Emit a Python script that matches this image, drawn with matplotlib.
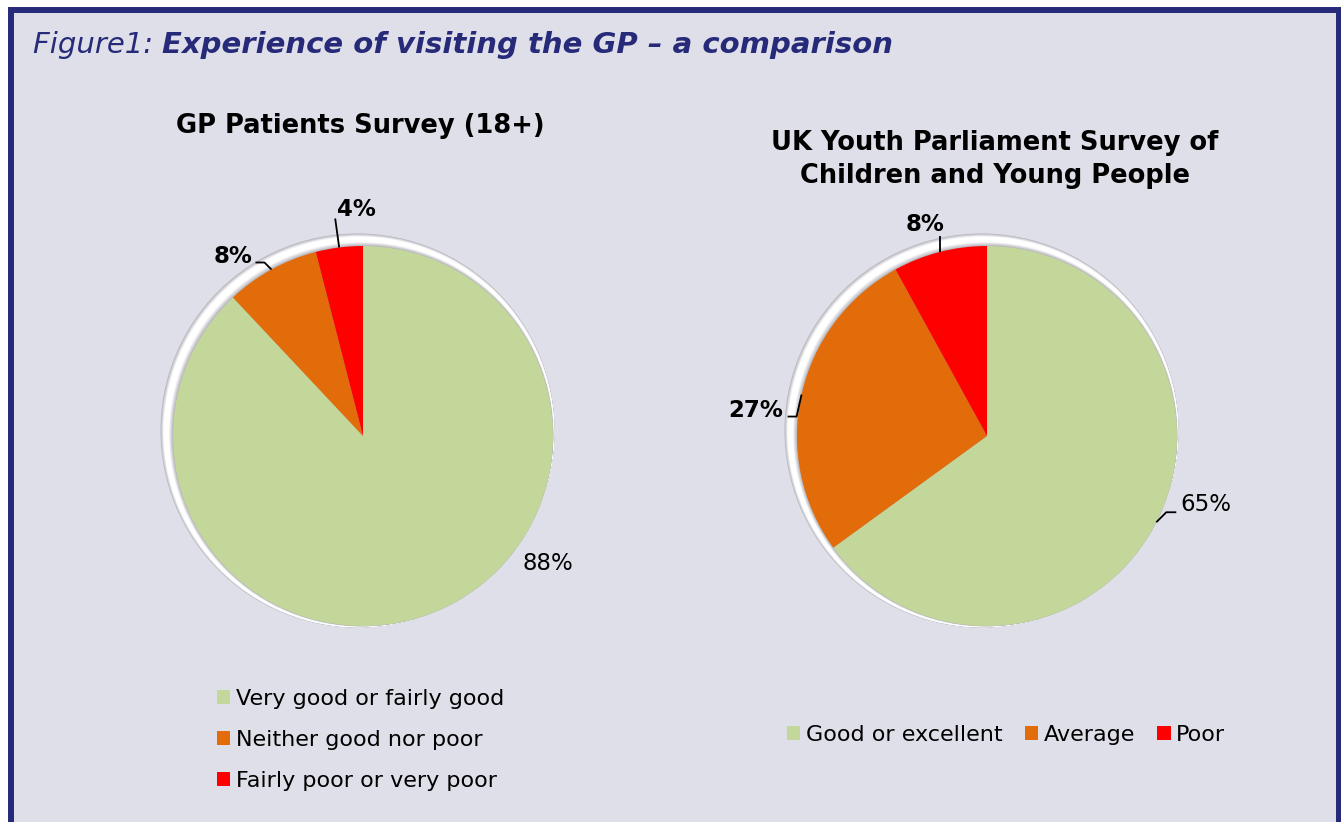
import numpy as np
import matplotlib.pyplot as plt
from matplotlib.patches import Circle, Rectangle
from matplotlib.colors import to_rgb

# data
left_title = 'GP Patients Survey (18+)'
left_labels = ['Very good or fairly good', 'Neither good nor poor', 'Fairly poor or very poor']
left_values = [88, 8, 4]

right_title = ['UK Youth Parliament Survey of', 'Children and Young People']
right_labels = ['Good or excellent', 'Average', 'Poor']
right_values = [65, 27, 8]

colors = ['#c4d79b', '#e26b0a', '#ff0000']
navy = '#262a78'
bg = '#dfdfe9'

W, H = 1341, 822
R = 190


def Y(y):
    # pixel rows from top -> data y
    return H - y


def ring_color(t):
    # bevel profile: t=0 at pie edge, t=1 at outer edge
    gray_in, white, gray_out = np.array(to_rgb('#b0b0b8')), np.ones(3), np.array(to_rgb('#b6b6be'))
    if t < 0.35:
        return gray_in + (white - gray_in) * (t / 0.35)
    if t < 0.75:
        return white
    return white + (gray_out - white) * ((t - 0.75) / 0.25)


fig = plt.figure(figsize=(W / 100, H / 100), dpi=100, facecolor='white')
ax = fig.add_axes([0, 0, 1, 1])

# panel background and border
ax.add_patch(Rectangle((11, Y(830)), 1328, 820, facecolor=bg, edgecolor=navy,
                       linewidth=4.3, zorder=0))


def draw_pie(cx, cy, values, specs):
    # bevel ring, drawn outer to inner
    for t in np.linspace(1, 0, 30):
        e, d = 7.0 * t, 5.5 * t
        ax.add_patch(Circle((cx - d, Y(cy - d)), R + e, facecolor=ring_color(t),
                            edgecolor='none', zorder=1))
    wedges, _ = ax.pie(values, colors=colors, startangle=90, counterclock=False,
                       center=(cx, Y(cy)), radius=R,
                       wedgeprops=dict(linewidth=0, zorder=2))
    for w, v, sp in zip(wedges, values, specs):
        txt = f'{v}%'
        if 'pos' in sp:
            ax.text(sp['pos'][0], Y(sp['pos'][1]), txt, ha='left', va='baseline',
                    fontsize=16.5, fontweight=sp['weight'], zorder=5)
            continue
        th = np.deg2rad((w.theta1 + w.theta2) / 2)
        x, y = cx + R * np.cos(th), cy - R * np.sin(th)
        xs, ys = [x], [y]
        for dx, dy in sp['path']:
            x, y = x + dx, y + dy
            xs.append(x)
            ys.append(y)
        ax.plot(xs, [Y(v_) for v_ in ys], color='black', lw=1.3, zorder=5,
                solid_capstyle='butt')
        tx, ty = sp['text']
        ax.text(x + tx, Y(y + ty), txt, ha=sp['ha'], va='baseline',
                fontsize=16.5, fontweight=sp['weight'], zorder=5)
    return wedges


left_specs = [
    dict(pos=(523, 570), weight='normal'),
    dict(path=[(-7, -7), (-9, 0)], text=(-3, 0), ha='right', weight='bold'),
    dict(path=[(-4, -29)], text=(2, -2), ha='left', weight='bold'),
]
right_specs = [
    dict(path=[(10, -10), (10, 0)], text=(4, -1), ha='left', weight='normal'),
    dict(path=[(-5, 22), (-9, 0)], text=(-4, 0), ha='right', weight='bold'),
    dict(path=[(0, -16)], text=(-15, -5), ha='center', weight='bold'),
]

wl = draw_pie(363, 436, left_values, left_specs)
wr = draw_pie(987, 436, right_values, right_specs)

# titles
t1 = ax.text(33, Y(53), 'Figure1: ', fontsize=21, style='italic', color=navy,
             va='baseline')
ax.annotate('Experience of visiting the GP \u2013 a comparison', xy=(1, 0),
            xycoords=t1, va='bottom', ha='left', fontsize=21, style='italic',
            fontweight='bold', color=navy)

ax.text(360, Y(133), left_title, fontsize=18.5, fontweight='bold',
        ha='center', va='baseline')
ax.text(995, Y(150), right_title[0], fontsize=18.5, fontweight='bold',
        ha='center', va='baseline')
ax.text(995, Y(183), right_title[1], fontsize=18.5, fontweight='bold',
        ha='center', va='baseline')

# legends
leg1 = ax.legend(wl, left_labels, loc='center left', bbox_to_anchor=(217, Y(740)),
                 bbox_transform=ax.transData, frameon=False, fontsize=16,
                 handlelength=0.6, handleheight=0.6, handletextpad=0.25,
                 labelspacing=0.95, borderpad=0, borderaxespad=0)
ax.add_artist(leg1)
ax.legend(wr, right_labels, loc='center left', bbox_to_anchor=(787, Y(735)),
          bbox_transform=ax.transData, frameon=False, fontsize=16, ncol=3,
          handlelength=0.6, handleheight=0.6, handletextpad=0.25,
          columnspacing=1.0, borderpad=0, borderaxespad=0)

ax.set_xlim(0, W)
ax.set_ylim(0, H)
ax.set_aspect('auto')
ax.axis('off')

fig.savefig('out.png', dpi=100, facecolor='white')
